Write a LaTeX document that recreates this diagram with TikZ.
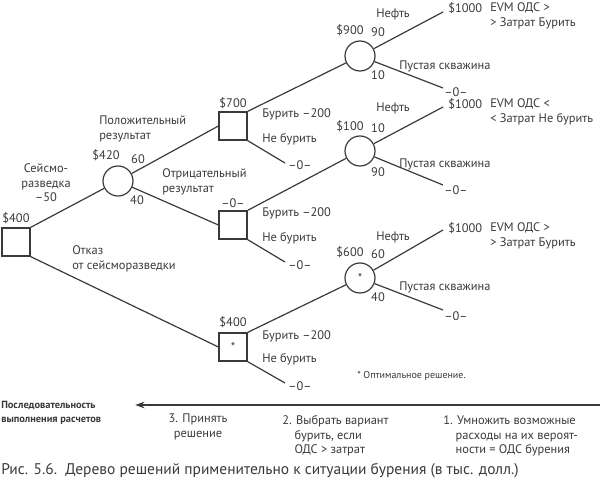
\documentclass[tikz,border=0pt]{standalone}
\usepackage{fontspec}
\setmainfont{PT Sans}
\usetikzlibrary{arrows.meta}
\definecolor{ink}{HTML}{3A3A3A}
\begin{document}
\begin{tikzpicture}[x=0.75pt,y=-0.75pt,
  every node/.style={text=ink,font=\fontsize{9.3}{10.8}\selectfont,inner sep=0pt},
  dec/.style={draw=ink,line width=0.9pt,minimum size=21pt,shape=rectangle},
  chn/.style={draw=ink,line width=0.9pt,minimum size=22.5pt,shape=circle},
  ln/.style={draw=ink,line width=0.9pt},
  lt/.style={anchor=west,align=left},
  pt/.style={inner sep=0pt,minimum size=0pt}]
\useasboundingbox (0,0) rectangle (600,492);
% nodes
\node[dec] (r) at (16,242) {};
\node[chn] (c420) at (118,181) {};
\node[dec] (d700) at (233,126) {};
\node[dec] (d0) at (233,225) {};
\node[dec] (d400) at (233,347) {*};
\node[chn] (c900) at (360,56) {};
\node[chn] (c100) at (360,151) {};
\node[chn] (c600) at (360,278) {*};
% leaf coords
\coordinate (l1) at (443,12); \coordinate (l2) at (443,88);
\coordinate (l3) at (443,107); \coordinate (l4) at (443,185);
\coordinate (l5) at (443,230); \coordinate (l6) at (443,310);
\coordinate (n1) at (285,163); \coordinate (n2) at (285,262); \coordinate (n3) at (285,383);
% edges
\draw[ln] (r.north east) -- (c420);
\draw[ln] (r.south east) -- (d400.west);
\draw[ln] (c420) -- (d700.west);
\draw[ln] (c420) -- (d0.west);
\draw[ln] (d700.north east) -- (c900);
\draw[ln] (d700.south east) -- (n1);
\draw[ln] (d0.north east) -- (c100);
\draw[ln] (d0.south east) -- (n2);
\draw[ln] (d400.north east) -- (c600);
\draw[ln] (d400.south east) -- (n3);
\draw[ln] (c900) -- (l1); \draw[ln] (c900) -- (l2);
\draw[ln] (c100) -- (l3); \draw[ln] (c100) -- (l4);
\draw[ln] (c600) -- (l5); \draw[ln] (c600) -- (l6);
% labels
\node at (16,218) {\$400};
\node[align=center] at (46,183) {Сейсмо-\\разведка\\–50};
\node[lt] at (99,129) {Положительный\\результат};
\node at (106,155) {\$420}; \node at (138,159) {60}; \node at (137,200) {40};
\node[lt] at (162,182) {Отрицательный\\результат};
\node[lt] at (72,259) {Отказ\\от сейсморазведки};
\node at (233,103) {\$700}; \node at (233,203) {–0–}; \node at (233,322) {\$400};
\node[lt] at (262,114) {Бурить –200}; \node[lt] at (262,139) {Не бурить};
\node[lt] at (262,213) {Бурить –200}; \node[lt] at (262,238) {Не бурить};
\node[lt] at (262,336) {Бурить –200}; \node[lt] at (262,359) {Не бурить};
\node at (300,165) {–0–}; \node at (300,265) {–0–}; \node at (300,386) {–0–};
\node at (350,30) {\$900}; \node at (378,32) {90}; \node at (378,75) {10};
\node at (350,126) {\$100}; \node at (378,128) {10}; \node at (378,172) {90};
\node at (350,252) {\$600}; \node at (378,254) {60}; \node at (378,297) {40};
\node at (393,14) {Нефть}; \node at (393,108) {Нефть}; \node at (393,237) {Нефть};
\node[lt] at (399,66) {Пустая скважина};
\node[lt] at (399,164) {Пустая скважина};
\node[lt] at (399,287) {Пустая скважина};
\node[lt] at (448,8) {\$1000}; \node[lt] at (448,104) {\$1000}; \node[lt] at (448,228) {\$1000};
\node at (456,92) {–0–}; \node at (456,190) {–0–}; \node at (456,316) {–0–};
\node[lt] at (490,16) {EVM ОДС >\\> Затрат Бурить};
\node[lt] at (490,112) {EVM ОДС <\\< Затрат Не бурить};
\node[lt] at (490,236) {EVM ОДС >\\> Затрат Бурить};
\node[lt,font=\fontsize{7.5}{9}\selectfont] at (357,376) {* Оптимальное решение.};
% bottom
\coordinate (ar) at (600,405);
\node[pt] (ah) at (135,405) {};
\draw[ln,-{Stealth[length=7pt,width=5pt]}] (ar) -- (ah);
\node[lt,font=\bfseries\fontsize{7.8}{11}\selectfont] at (1,413) {Последовательность\\выполнения расчетов};
\node[align=center] at (198,427) {3. Принять\\решение};
\node[lt,align=left] at (282,436) {2. Выбрать вариант\\\hspace*{1em}бурить, если\\\hspace*{1em}ОДС > затрат};
\node[lt,align=left] at (443,436) {1. Умножить возможные\\\hspace*{1em}расходы на их вероят-\\\hspace*{1em}ности = ОДС бурения};
\node[lt,font=\fontsize{11.6}{13}\selectfont] at (1,471) {Рис. 5.6.\ \ Дерево решений применительно к ситуации бурения (в тыс. долл.)};
\end{tikzpicture}
\end{document}
